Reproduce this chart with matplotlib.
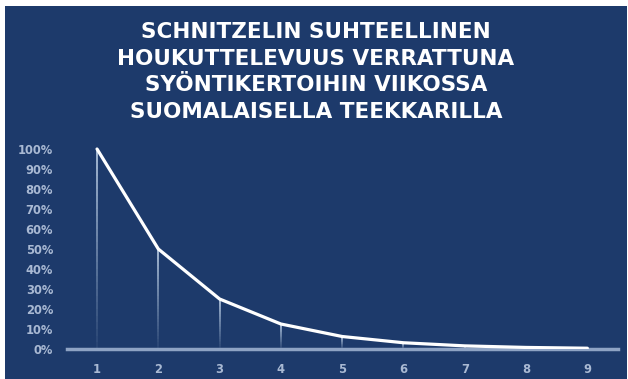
import matplotlib
matplotlib.use("Agg")
import matplotlib.pyplot as plt
from matplotlib.patches import Rectangle
from matplotlib.collections import LineCollection
import numpy as np

# Data
kerrat = [1, 2, 3, 4, 5, 6, 7, 8, 9]
houkuttelevuus = [1.00, 0.50, 0.25, 0.125, 0.0625, 0.03125, 0.015625, 0.0078125, 0.00390625]
y_ticks = [0.0, 0.1, 0.2, 0.3, 0.4, 0.5, 0.6, 0.7, 0.8, 0.9, 1.0]
y_tick_labels = ["0%", "10%", "20%", "30%", "40%", "50%", "60%", "70%", "80%", "90%", "100%"]
otsikko = ("SCHNITZELIN SUHTEELLINEN\nHOUKUTTELEVUUS VERRATTUNA\n"
           "SYÖNTIKERTOIHIN VIIKOSSA\nSUOMALAISELLA TEEKKARILLA")

BG = "#1d3a6b"
TICK = "#a9b9d3"
AXIS = "#8ea3c4"

W, H = 628, 379
fig = plt.figure(figsize=(W / 100, H / 100), dpi=100, facecolor="white")
fig.patches.append(Rectangle((5 / W, 0), (W - 6) / W, (H - 6) / H,
                             transform=fig.transFigure, facecolor=BG,
                             edgecolor="none", zorder=-10))

ax = fig.add_axes([67 / W, (H - 349) / H, 551 / W, (349 - 140) / H])
ax.set_facecolor("none")
ax.set_zorder(5)
ax.set_xlim(0.51, 9.5)
ax.set_ylim(0, 1.045)

# drop lines with fading alpha
n = 30
segs, cols = [], []
for x, y in zip(kerrat, houkuttelevuus):
    for i in range(n):
        y0 = y * (1 - i / n)
        y1 = y * (1 - (i + 1) / n)
        segs.append([(x, y0), (x, y1)])
        a = 0.85 * (1 - i / n) + 0.05
        cols.append((0.8, 0.87, 0.95, a))
ax.add_collection(LineCollection(segs, colors=cols, linewidths=1.2, zorder=2))

ax.plot(kerrat, houkuttelevuus, color="white", linewidth=2.3,
        solid_joinstyle="round", solid_capstyle="round", zorder=4)

for s in ["top", "right", "left"]:
    ax.spines[s].set_visible(False)
ax.spines["bottom"].set_color(AXIS)
ax.spines["bottom"].set_linewidth(2.5)
ax.spines["bottom"].set_zorder(3)

ax.set_xticks(kerrat)
ax.set_xticklabels([str(k) for k in kerrat])
ax.set_yticks(y_ticks)
ax.set_yticklabels(y_tick_labels)
ax.tick_params(axis="both", length=0, colors=TICK, labelsize=8.3)
ax.tick_params(axis="x", pad=10)
ax.tick_params(axis="y", pad=10)
for lab in ax.get_xticklabels() + ax.get_yticklabels():
    lab.set_fontweight("bold")

fig.text(316 / W, 1 - 72 / H, otsikko, ha="center", va="center",
         color="white", fontsize=15.5, fontweight="bold",
         linespacing=1.42, family="DejaVu Sans")

fig.savefig("out.png", dpi=100, facecolor="white")
